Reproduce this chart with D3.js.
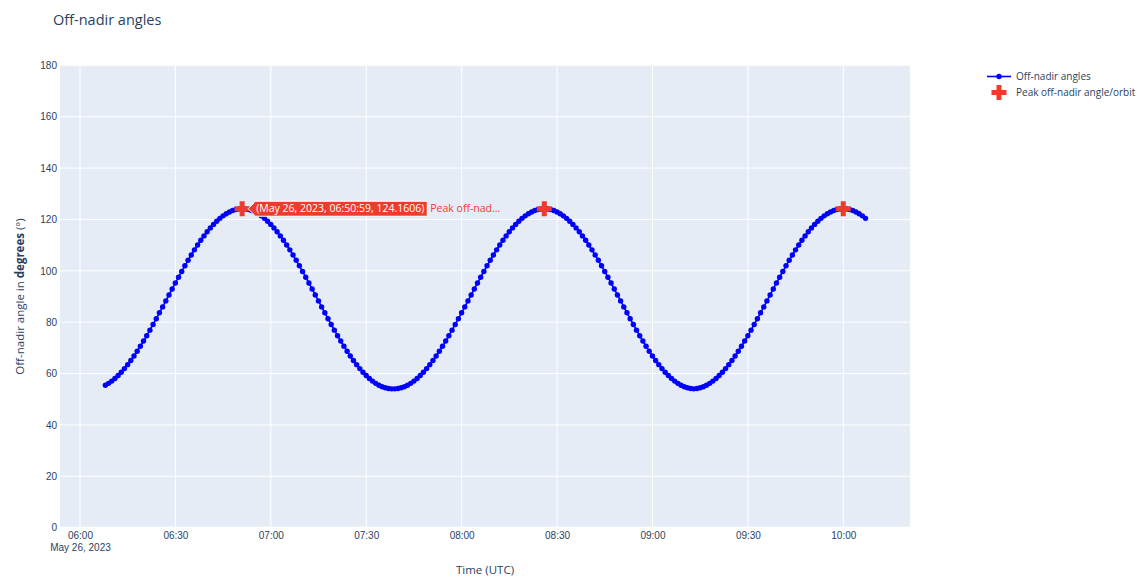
<!DOCTYPE html>
<html>
<head>
<meta charset="utf-8">
<script src="https://cdn.jsdelivr.net/npm/d3@7"></script>
<style>
  html, body { margin: 0; padding: 0; background: #fff; }
  svg { display: block; font-family: "Open Sans", verdana, arial, sans-serif; }
</style>
</head>
<body>
<svg id="chart" width="1137" height="578"></svg>
<script>
// Sampling of the off-nadir angle series (one sample per minute, UTC)
const sampleStart = "2023-05-26T06:07:59Z";
const sampleStepSeconds = 60;

// Off-nadir angle in degrees, one value per sample
const offNadirAngles = [
  55.47, 56.20, 57.07, 58.09, 59.24, 60.53, 61.94, 63.47, 65.11, 66.86,
  68.71, 70.64, 72.66, 74.75, 76.90, 79.12, 81.36, 83.65, 85.96, 88.29,
  90.61, 92.93, 95.23, 97.51, 99.76, 101.95, 104.09, 106.15, 108.15, 110.06,
  111.88, 113.59, 115.21, 116.70, 118.07, 119.32, 120.43, 121.40, 122.24, 122.92,
  123.46, 123.84, 124.07, 124.16,
  124.07, 123.84, 123.46, 122.92, 122.24, 121.40, 120.43, 119.32, 118.07, 116.70,
  115.21, 113.59, 111.88, 110.06, 108.15, 106.15, 104.09, 101.95, 99.76, 97.51,
  95.23, 92.93, 90.61, 88.29, 85.96, 83.65, 81.36, 79.12, 76.90, 74.75,
  72.66, 70.64, 68.71, 66.86, 65.11, 63.47, 61.94, 60.53, 59.24, 58.09,
  57.07, 56.20, 55.47, 54.89, 54.46, 54.18, 54.06,
  54.06, 54.18, 54.46, 54.89, 55.47, 56.20, 57.07, 58.09, 59.24, 60.53,
  61.94, 63.47, 65.11, 66.86, 68.71, 70.64, 72.66, 74.75, 76.90, 79.12,
  81.36, 83.65, 85.96, 88.29, 90.61, 92.93, 95.23, 97.51, 99.76, 101.95,
  104.09, 106.15, 108.15, 110.06, 111.88, 113.59, 115.21, 116.70, 118.07, 119.32,
  120.43, 121.40, 122.24, 122.92, 123.46, 123.84, 124.07, 124.16,
  124.07, 123.84, 123.46, 122.92, 122.24, 121.40, 120.43, 119.32, 118.07, 116.70,
  115.21, 113.59, 111.88, 110.06, 108.15, 106.15, 104.09, 101.95, 99.76, 97.51,
  95.23, 92.93, 90.61, 88.29, 85.96, 83.65, 81.36, 79.12, 76.90, 74.75,
  72.66, 70.64, 68.71, 66.86, 65.11, 63.47, 61.94, 60.53, 59.24, 58.09,
  57.07, 56.20, 55.47, 54.89, 54.46, 54.18, 54.06,
  54.18, 54.46, 54.89, 55.47, 56.20, 57.07, 58.09, 59.24, 60.53, 61.94,
  63.47, 65.11, 66.86, 68.71, 70.64, 72.66, 74.75, 76.90, 79.12, 81.36,
  83.65, 85.96, 88.29, 90.61, 92.93, 95.23, 97.51, 99.76, 101.95, 104.09,
  106.15, 108.15, 110.06, 111.88, 113.59, 115.21, 116.70, 118.07, 119.32, 120.43,
  121.40, 122.24, 122.92, 123.46, 123.84, 124.07, 124.16,
  124.07, 123.84, 123.46, 122.92, 122.24, 121.40, 120.43
];

// Peak off-nadir angle of each orbit
const peakTimes = ["2023-05-26T06:50:59Z", "2023-05-26T08:25:59Z", "2023-05-26T09:59:59Z"];
const peakValues = [124.1606, 124.16, 124.16];

// Axis ticks
const yTicks = [0, 20, 40, 60, 80, 100, 120, 140, 160, 180];
const xTickTimes = ["06:00", "06:30", "07:00", "07:30", "08:00", "08:30", "09:00", "09:30", "10:00"];
const xRange = ["2023-05-26T05:53:43Z", "2023-05-26T10:20:58Z"];

const legendLabels = ["Off-nadir angles", "Peak off-nadir angle/orbit"];
const hoverText = "(May 26, 2023, 06:50:59, 124.1606)";

const lineColor = "#0000ff";
const peakColor = "#ef3b2c";
const textColor = "#2a3f5f";

const svg = d3.select("#chart");
const plot = { left: 60, right: 910, top: 65.3, bottom: 527.7 };

const t0 = new Date(sampleStart).getTime();
const series = offNadirAngles.map((v, i) => ({ t: new Date(t0 + i * sampleStepSeconds * 1000), v }));
const peaks = peakTimes.map((t, i) => ({ t: new Date(t), v: peakValues[i] }));

const x = d3.scaleUtc().domain(xRange.map(d => new Date(d))).range([plot.left, plot.right]);
const y = d3.scaleLinear().domain([0, 180]).range([plot.bottom, plot.top]);

// Plot background
svg.append("rect")
  .attr("x", plot.left).attr("y", plot.top)
  .attr("width", plot.right - plot.left).attr("height", plot.bottom - plot.top)
  .attr("fill", "#e5ecf6");

const xTicks = xTickTimes.map(s => new Date(`2023-05-26T${s}:00Z`));

// Grid lines
svg.append("g").selectAll("line").data(xTicks).join("line")
  .attr("x1", d => x(d)).attr("x2", d => x(d))
  .attr("y1", plot.top).attr("y2", plot.bottom)
  .attr("stroke", "#fff").attr("stroke-width", 1);
svg.append("g").selectAll("line").data(yTicks).join("line")
  .attr("x1", plot.left).attr("x2", plot.right)
  .attr("y1", d => y(d)).attr("y2", d => y(d))
  .attr("stroke", "#fff").attr("stroke-width", d => d === 0 ? 2 : 1);

// Y axis
const yAxis = svg.append("g")
  .attr("transform", `translate(${plot.left},0)`)
  .call(d3.axisLeft(y).tickValues(yTicks).tickSize(0).tickPadding(3));
yAxis.select(".domain").remove();
yAxis.selectAll("text").attr("fill", textColor).style("font-size", "10px").style("font-family", "inherit");

// X axis
const xAxis = svg.append("g")
  .attr("transform", `translate(0,${plot.bottom})`)
  .call(d3.axisBottom(x).tickValues(xTicks).tickSize(0).tickPadding(4)
    .tickFormat(d3.utcFormat("%H:%M")));
xAxis.select(".domain").remove();
xAxis.selectAll("text").attr("fill", textColor).style("font-size", "10px").style("font-family", "inherit");
xAxis.selectAll(".tick").filter((d, i) => i === 0).select("text")
  .append("tspan").attr("x", 0).attr("dy", "1.25em").text(d3.utcFormat("%b %-d, %Y")(xTicks[0]));

// Axis titles
svg.append("text")
  .attr("x", (plot.left + plot.right) / 2).attr("y", 574)
  .attr("text-anchor", "middle").attr("fill", textColor)
  .style("font-size", "11.5px").text("Time (UTC)");

const yTitle = svg.append("text")
  .attr("transform", `translate(20,${(plot.top + plot.bottom) / 2}) rotate(-90)`)
  .attr("text-anchor", "middle").attr("dy", "0.35em").attr("fill", textColor)
  .style("font-size", "11.5px");
yTitle.append("tspan").text("Off-nadir angle in ");
yTitle.append("tspan").attr("font-weight", "bold").text("degrees");
yTitle.append("tspan").text(" (°)");

// Title
svg.append("text")
  .attr("x", 53).attr("y", 25)
  .attr("fill", textColor).style("font-size", "14.5px")
  .text("Off-nadir angles");

// Series line and markers
const line = d3.line().x(d => x(d.t)).y(d => y(d.v));
svg.append("path").datum(series)
  .attr("d", line).attr("fill", "none")
  .attr("stroke", lineColor).attr("stroke-width", 1.6);
svg.append("g").selectAll("circle").data(series).join("circle")
  .attr("cx", d => x(d.t)).attr("cy", d => y(d.v)).attr("r", 2.7)
  .attr("fill", lineColor);

// Peak markers
const cross = d3.symbol().type(d3.symbolCross).size(125);
svg.append("g").selectAll("path").data(peaks).join("path")
  .attr("transform", d => `translate(${x(d.t)},${y(d.v)})`)
  .attr("d", cross).attr("fill", peakColor);

// Hover label on the first peak
const hp = peaks[0];
const hx = x(hp.t) + 6, hy = y(hp.v);
const hover = svg.append("g").attr("transform", `translate(${hx},${hy})`);
const hoverBody = hover.append("text")
  .attr("x", 8).attr("y", 0).attr("dy", "0.35em")
  .attr("fill", "#fff").style("font-size", "10.5px").text(hoverText);
const bw = hoverBody.node().getComputedTextLength() + 5;
const bh = 15;
hover.insert("path", "text")
  .attr("d", `M0,0L6,-6V${-bh / 2}H${6 + bw}V${bh / 2}H6V6Z`)
  .attr("fill", peakColor).attr("stroke", "#fff").attr("stroke-width", 1);
hover.append("text")
  .attr("x", 6 + bw + 3).attr("y", 0).attr("dy", "0.35em")
  .attr("fill", peakColor).style("font-size", "10.5px").text("Peak off-nad...");

// Legend
const legend = svg.append("g");
legend.append("line").attr("x1", 987).attr("x2", 1011).attr("y1", 76.5).attr("y2", 76.5)
  .attr("stroke", lineColor).attr("stroke-width", 1.6);
legend.append("circle").attr("cx", 999).attr("cy", 76.5).attr("r", 2.7).attr("fill", lineColor);
legend.append("path").attr("transform", "translate(999,92.5)").attr("d", cross).attr("fill", peakColor);
legend.selectAll("text.lg").data(legendLabels).join("text")
  .attr("class", "lg")
  .attr("x", 1016).attr("y", (d, i) => 76.5 + i * 16).attr("dy", "0.35em")
  .attr("fill", textColor).style("font-size", "10px").text(d => d);
</script>
</body>
</html>
